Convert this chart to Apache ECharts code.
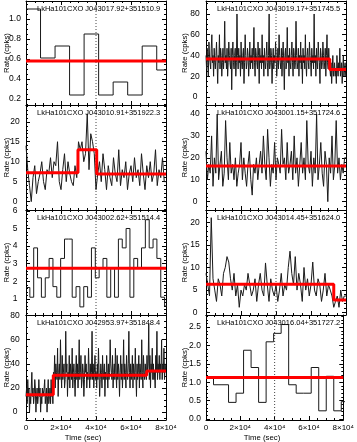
<!DOCTYPE html>
<html>
<head>
<meta charset="utf-8">
<script src="https://cdn.jsdelivr.net/npm/echarts@6/dist/echarts.min.js"></script>
<style>
html, body { margin: 0; padding: 0; background: #fff; }
#chart { width: 357px; height: 442px; }
</style>
</head>
<body>
<div id="chart"></div>
<script>
// source names, in panel order (left/right, top to bottom)
const srcNames = [
  'LkHa101CXO J043017.92+351510.9', 'LkHa101CXO J043019.17+351745.5',
  'LkHa101CXO J043010.91+351922.3', 'LkHa101CXO J043001.15+351724.6',
  'LkHa101CXO J043002.62+351514.4', 'LkHa101CXO J043014.45+351624.0',
  'LkHa101CXO J042953.97+351848.4', 'LkHa101CXO J043016.04+351727.2'
]

// time axis (sec)
const timeTicks = [0, 20000, 40000, 60000, 80000]
const timeRange = [0, 80000]
const flareMark = 40000

// bin width (sec) of each light curve
const binL1 = 8300, binR1 = 334, binL2 = 1000, binR2 = 800
const binL3 = 2200, binR3 = 1000, binL4 = 334, binR4 = 4380

// binned rates (cpks)
const rateL1 = [1.1, 0.61, 0.73, 0.24, 0.85, 0.24, 0.37, 0.24, 0.73, 0.49]
const rateR1 = [
  40, 27, 47, 33, 20, 53, 40, 33, 27, 47, 60, 33, 40, 20, 47, 33, 27, 40, 53, 33,
  13, 40, 33, 60, 27, 47, 40, 20, 33, 47, 27, 40, 73, 33, 40, 27, 47, 20, 33, 53,
  40, 33, 27, 47, 7, 40, 53, 33, 27, 40, 47, 20, 33, 80, 40, 27, 47, 33, 40, 20,
  53, 33, 27, 40, 47, 13, 33, 60, 40, 27, 33, 47, 40, 20, 33, 53, 27, 40, 33, 47,
  27, 40, 67, 33, 20, 47, 40, 33, 27, 53, 40, 13, 47, 33, 40, 27, 60, 33, 40, 20,
  47, 33, 27, 40, 53, 33, 20, 40, 80, 27, 33, 47, 40, 13, 33, 47, 27, 40, 33, 53,
  40, 20, 33, 47, 27, 60, 40, 33, 27, 47, 20, 40, 53, 33, 7, 40, 47, 27, 33, 67,
  33, 40, 20, 47, 33, 27, 40, 53, 33, 20, 47, 40, 27, 33, 73, 40, 27, 33, 47, 20,
  40, 33, 53, 27, 40, 13, 47, 33, 40, 27, 60, 33, 20, 40, 47, 33, 27, 53, 40, 33,
  20, 47, 33, 40, 27, 80, 33, 40, 20, 47, 33, 27, 53, 40, 33, 13, 47, 40, 27, 33,
  53, 40, 27, 33, 47, 20, 40, 60, 33, 27, 47, 33, 27, 20, 33, 13, 27, 40, 20, 27,
  33, 20, 27, 13, 40, 27, 20, 33, 27, 47, 20, 27, 33, 13, 27, 40, 20, 27, 33, 20
]
const rateL2 = [
  14, 8, 4, 0, 6, 9, 2, 5, 7, 10, 5, 3, 8, 7, 11, 6, 10, 9, 15, 5,
  3, 8, 12, 5, 10, 7, 5, 4, 9, 6, 15, 13, 15, 10, 12, 22, 8, 17, 15, 12,
  3, 7, 10, 5, 12, 8, 3, 9, 6, 4, 11, 7, 5, 13, 4, 8, 6, 10, 3, 7,
  9, 5, 11, 6, 8, 4, 12, 7, 3, 9, 6, 10, 5, 7, 13, 4, 8, 6, 11, 5
]
const rateR2 = [
  23, 10, 17, 13, 30, 7, 20, 13, 40, 10, 17, 23, 7, 13, 37, 20, 10, 27, 13, 17,
  10, 20, 7, 13, 17, 27, 10, 20, 13, 7, 17, 23, 10, 3, 17, 13, 20, 10, 17, 23,
  13, 30, 17, 10, 33, 20, 7, 17, 13, 27, 10, 20, 17, 13, 33, 17, 20, 10, 27, 13,
  17, 23, 10, 30, 13, 20, 7, 17, 27, 13, 20, 10, 37, 17, 13, 23, 7, 20, 13, 40,
  10, 17, 27, 13, 7, 23, 17, 0, 20, 13, 30, 10, 17, 37, 13, 20, 10, 17, 13, 20
]
const rateL3 = [
  1.65, 1.1, 3.9, 2.2, 1.1, 2.2, 3.3, 1.7, 1.1, 3.3, 4.4, 4.4, 1.1, 1.7, 0.55, 1.7,
  1.1, 3.9, 2.2, 2.75, 3.3, 1.1, 2.75, 1.1, 4.4, 3.9, 5.0, 1.1, 3.3, 2.75, 3.9, 5.5,
  3.9, 4.4, 3.3, 1.1, 0.6
]
const rateR3 = [
  8.7, 6.2, 3.7, 21, 7.5, 5, 2.5, 7.5, 6.2, 3.7, 8.7, 10, 12.4, 11.2, 7.5, 5, 8.7, 3.7, 6.2, 1.2,
  5, 3.7, 6.2, 5, 8.7, 6.2, 3.7, 5, 7.5, 2.5, 6.2, 8.7, 5, 3.7, 11, 6.2, 2.5, 7.5, 5, 3.7,
  6.2, 2.5, 5, 8.7, 3.7, 6.2, 5, 10, 13.6, 8.7, 6.2, 12.4, 5, 8.7, 6.2, 2.5, 10, 5, 7.5, 3.7,
  6.2, 11.2, 5, 3.7, 7.5, 6.2, 2.5, 5, 8.7, 3.7, 6.2, 5, 3.7, 1.2, 2.5, 3.7, 1.2, 5, 2.5, 3.7
]
const rateL4 = [
  13, 20, 7, 27, 13, 20, 0, 13, 7, 20, 33, 13, 20, 7, 13, 27, 20, 0, 13, 20,
  7, 13, 27, 13, 20, 0, 13, 7, 20, 13, 13, 20, 27, 7, 13, 20, 0, 13, 27, 7,
  13, 20, 7, 27, 13, 20, 7, 33, 27, 47, 20, 40, 33, 27, 53, 13, 33, 40, 27, 60,
  33, 20, 47, 27, 33, 40, 20, 27, 67, 33, 40, 13, 33, 27, 47, 20, 40, 33, 27, 53,
  20, 33, 40, 27, 13, 33, 47, 27, 40, 20, 33, 60, 27, 33, 47, 20, 27, 40, 33, 13,
  27, 47, 33, 40, 20, 33, 27, 53, 33, 20, 40, 27, 33, 67, 27, 40, 20, 33, 47, 27,
  33, 20, 40, 27, 53, 33, 13, 27, 40, 33, 20, 47, 27, 33, 40, 13, 33, 27, 47, 33,
  20, 40, 27, 33, 60, 40, 33, 27, 47, 20, 33, 40, 27, 53, 33, 20, 47, 27, 40, 33,
  13, 33, 47, 27, 40, 20, 33, 60, 27, 40, 33, 20, 47, 33, 27, 40, 67, 33, 20, 40,
  27, 33, 47, 20, 40, 33, 27, 53, 33, 13, 40, 27, 33, 47, 20, 40, 33, 27, 60, 33,
  20, 47, 33, 27, 40, 33, 27, 47, 33, 40, 73, 27, 47, 20, 40, 33, 53, 27, 40, 27,
  33, 20, 47, 33, 67, 27, 40, 33, 47, 27, 40, 33, 60, 27, 40, 33, 53, 27, 40, 33
]
const rateR4 = [1.15, 0.93, 0.93, 0.45, 0.70, 1.87, 1.40, 0.45, 2.1, 2.33, 2.57, 0.93, 0.70, 0.70, 1.40, 0.22, 1.16, 0.22, 0.47]

// Bayesian-block edges (sec) and rates (cpks)
const blockEdgesL1 = [0, 80000], blockRatesL1 = [0.58]
const blockEdgesR1 = [0, 70700, 80000], blockRatesR1 = [36.5, 26.5]
const blockEdgesL2 = [0, 29700, 40400, 80000], blockRatesL2 = [7.2, 13.0, 6.9]
const blockEdgesR2 = [0, 80000], blockRatesR2 = [16.3]
const blockEdgesL3 = [0, 80000], blockRatesL3 = [2.75]
const blockEdgesR3 = [0, 73000, 80000], blockRatesR3 = [6.3, 2.8]
const blockEdgesL4 = [0, 15600, 69000, 80000], blockRatesL4 = [14.5, 30.5, 34.0]
const blockEdgesR4 = [0, 80000], blockRatesR4 = [1.13]

// rate axis ranges and tick labels
const yRangeL1 = [0.14, 1.18], yTicksL1 = [0.2, 0.4, 0.6, 0.8, 1.0]
const yRangeR1 = [-7.7, 92.5], yTicksR1 = [0, 20, 40, 60, 80]
const yRangeL2 = [-2.1, 24.2], yTicksL2 = [0, 5, 10, 15, 20]
const yRangeR2 = [-3.8, 44.1], yTicksR2 = [0, 10, 20, 30, 40]
const yRangeL3 = [0.09, 6.05], yTicksL3 = [1, 2, 3, 4, 5, 6]
const yRangeR3 = [-0.5, 22.7], yTicksR3 = [0, 5, 10, 15, 20]
const yRangeL4 = [-6.5, 80.5], yTicksL4 = [0, 20, 40, 60, 80]
const yRangeR4 = [-0.03, 2.83], yTicksR4 = [0.0, 0.5, 1.0, 1.5, 2.0, 2.5]

const panels = [
  { bin: binL1, rate: rateL1, be: blockEdgesL1, br: blockRatesL1, yr: yRangeL1, yt: yTicksL1, minor: 0.05, dec: 1 },
  { bin: binR1, rate: rateR1, be: blockEdgesR1, br: blockRatesR1, yr: yRangeR1, yt: yTicksR1, minor: 5, dec: 0 },
  { bin: binL2, rate: rateL2, be: blockEdgesL2, br: blockRatesL2, yr: yRangeL2, yt: yTicksL2, minor: 1, dec: 0 },
  { bin: binR2, rate: rateR2, be: blockEdgesR2, br: blockRatesR2, yr: yRangeR2, yt: yTicksR2, minor: 2, dec: 0 },
  { bin: binL3, rate: rateL3, be: blockEdgesL3, br: blockRatesL3, yr: yRangeL3, yt: yTicksL3, minor: 0.2, dec: 0 },
  { bin: binR3, rate: rateR3, be: blockEdgesR3, br: blockRatesR3, yr: yRangeR3, yt: yTicksR3, minor: 1, dec: 0 },
  { bin: binL4, rate: rateL4, be: blockEdgesL4, br: blockRatesL4, yr: yRangeL4, yt: yTicksL4, minor: 5, dec: 0 },
  { bin: binR4, rate: rateR4, be: blockEdgesR4, br: blockRatesR4, yr: yRangeR4, yt: yTicksR4, minor: 0.1, dec: 1 }
]

const FONT = 'Liberation Sans'
const rowTop = [1, 105, 210, 315]
const rowH = [104, 105, 105, 105]

function minorValues (min, max, majors, step) {
  const out = []
  for (let v = Math.ceil(min / step) * step; v <= max + 1e-9; v += step) {
    const r = Math.round(v / step) * step
    if (!majors.some(m => Math.abs(m - r) < step / 10)) out.push(+r.toFixed(6))
  }
  return out
}

function makeAxis (g, pos, range, ticks, len, label, showLine) {
  return {
    gridIndex: g,
    type: 'value',
    position: pos,
    min: range[0],
    max: range[1],
    axisLine: { show: showLine, onZero: false, lineStyle: { color: '#000', width: 1 } },
    axisTick: { show: true, inside: true, length: len, customValues: ticks, lineStyle: { color: '#000', width: 1 } },
    axisLabel: label ? Object.assign({ show: true, fontFamily: FONT, color: '#000' }, label) : { show: false },
    splitLine: { show: false },
    minorTick: { show: false }
  }
}

function fmtTime (v) {
  return v === 0 ? '0' : (v / 10000) + '×10⁴'
}

const grids = [], xAxes = [], yAxes = [], series = [], graphics = []

panels.forEach((p, g) => {
  const col = g % 2
  const row = Math.floor(g / 2)
  const left = col ? 206 : 26
  const top = rowTop[row]
  const height = rowH[row]
  grids.push({ left: left, top: top, width: 140, height: height })

  const xMinor = minorValues(timeRange[0], timeRange[1], timeTicks, 5000)
  const yMinor = minorValues(p.yr[0], p.yr[1], p.yt, p.minor)
  const xLabel = row === 3 ? { customValues: timeTicks, formatter: fmtTime, margin: 4, fontSize: 8 } : null
  const yLabel = { customValues: p.yt, formatter: v => v.toFixed(p.dec), margin: 11, align: 'center', fontSize: 8.5 }

  xAxes.push(makeAxis(g, 'bottom', timeRange, timeTicks, 4, xLabel, true))
  xAxes.push(makeAxis(g, 'bottom', timeRange, xMinor, 2, null, false))
  xAxes.push(makeAxis(g, 'top', timeRange, timeTicks, 4, null, true))
  xAxes.push(makeAxis(g, 'top', timeRange, xMinor, 2, null, false))
  yAxes.push(makeAxis(g, 'left', p.yr, p.yt, 4, yLabel, true))
  yAxes.push(makeAxis(g, 'left', p.yr, yMinor, 2, null, false))
  yAxes.push(makeAxis(g, 'right', p.yr, p.yt, 4, null, true))
  yAxes.push(makeAxis(g, 'right', p.yr, yMinor, 2, null, false))

  // histogram-style light curve
  const curve = []
  p.rate.forEach((v, i) => {
    curve.push([i * p.bin, v])
    curve.push([(i + 1) * p.bin, v])
  })
  // blocks
  const blocks = []
  p.br.forEach((v, i) => {
    blocks.push([p.be[i], v])
    blocks.push([p.be[i + 1], v])
  })

  const ax = { xAxisIndex: g * 4, yAxisIndex: g * 4 }
  series.push(Object.assign({
    type: 'line', data: [[flareMark, p.yr[0]], [flareMark, p.yr[1]]], symbol: 'none', silent: true, z: 1,
    lineStyle: { color: '#444', width: 1, type: [1, 2] }
  }, ax))
  series.push(Object.assign({
    type: 'line', data: curve, symbol: 'none', silent: true, z: 2,
    lineStyle: { color: '#1a1a1a', width: 1 }
  }, ax))
  series.push(Object.assign({
    type: 'line', data: blocks, symbol: 'none', silent: true, z: 3,
    lineStyle: { color: '#ff0000', width: 3 }
  }, ax))

  graphics.push({
    type: 'text', x: left + 11, y: top + 8, z: 100,
    style: { text: srcNames[g], font: '7.5px "' + FONT + '"', fill: '#000', align: 'left', textAlign: 'left', verticalAlign: 'middle', textVerticalAlign: 'middle' }
  })
  graphics.push({
    type: 'text', x: col ? 185 : 7, y: top + height / 2, rotation: Math.PI / 2, z: 100,
    style: { text: 'Rate (cpks)', font: '7.8px "' + FONT + '"', fill: '#000', align: 'center', textAlign: 'center', verticalAlign: 'middle', textVerticalAlign: 'middle' }
  })
  if (row === 3) {
    graphics.push({
      type: 'text', x: col ? 262 : 83, y: 437.5, z: 100,
      style: { text: 'Time (sec)', font: '7.8px "' + FONT + '"', fill: '#000', align: 'center', textAlign: 'center', verticalAlign: 'middle', textVerticalAlign: 'middle' }
    })
  }
})

const myChart = echarts.init(document.getElementById('chart'))
myChart.setOption({
  animation: false,
  backgroundColor: '#fff',
  grid: grids,
  xAxis: xAxes,
  yAxis: yAxes,
  series: series,
  graphic: graphics
})
</script>
</body>
</html>
